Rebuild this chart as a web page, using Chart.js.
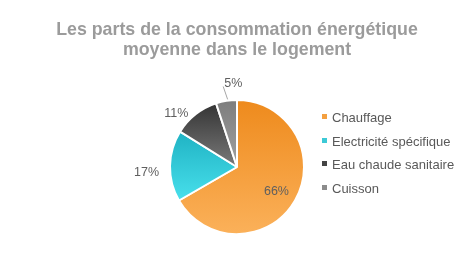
<!DOCTYPE html>
<html lang="fr">
<head>
    <meta charset="utf-8"/>
    <title>Consommation énergétique</title>
    <script src="https://cdn.jsdelivr.net/npm/chart.js"></script>
    <style>
        html, body { margin: 0; padding: 0; background: #fff; }
        #wrap { position: relative; width: 474px; height: 254px; overflow: hidden; font-family: "Liberation Sans", Arial, sans-serif; }
        #title {
            position: absolute; left: 0; top: 19px; width: 474px;
            text-align: center; font-weight: bold; font-size: 17.8px; line-height: 20px; color: #9b9b9b;
        }
        #legend { position: absolute; left: 322px; top: 109px; margin: 0; padding: 0; list-style: none; }
        #legend li { height: 23.7px; line-height: 18px; font-size: 13px; color: #595959; white-space: nowrap; }
        #legend span { display: inline-block; width: 5px; height: 5px; margin-right: 5px; vertical-align: 3px; }
        canvas { position: absolute; left: 0; top: 0; }
    </style>
</head>
<body>
<div id="wrap">
    <canvas id="pie" width="474" height="254"></canvas>
    <div id="title">Les parts de la consommation énergétique<br>moyenne dans le logement</div>
    <ul id="legend"></ul>
</div>
<script>
    // data
    const categories = ['Chauffage', 'Electricité spécifique', 'Eau chaude sanitaire', 'Cuisson'];
    const shares = [66, 17, 11, 5];
    const pctLabels = ['66%', '17%', '11%', '5%'];

    // gradient colours (top, bottom) and legend swatch
    const gradTop = ['#ee8a1c', '#1fb2c3', '#333333', '#7d7d7d'];
    const gradBottom = ['#fbb15a', '#48e0ec', '#7a7a7a', '#a0a0a0'];
    const swatch = ['#f4a040', '#3cc9d6', '#444444', '#8c8c8c'];

    // legend in html
    const legend = document.getElementById('legend');
    categories.forEach((c, i) => {
        const li = document.createElement('li');
        li.innerHTML = '<span style="background:' + swatch[i] + '"></span>' + c;
        legend.appendChild(li);
    });

    // angle range of a slice, starting at 12 o'clock, clockwise
    function sliceAngles(i) {
        const total = shares.reduce((a, b) => a + b, 0);
        let start = -Math.PI / 2;
        for (let k = 0; k < i; k++) start += shares[k] / total * Math.PI * 2;
        return [start, start + shares[i] / total * Math.PI * 2];
    }

    function sliceFill(ctx) {
        const chart = ctx.chart;
        const area = chart.chartArea;
        const i = ctx.dataIndex;
        if (!area) return swatch[i];
        const cx = (area.left + area.right) / 2;
        const cy = (area.top + area.bottom) / 2;
        const r = Math.min(area.right - area.left, area.bottom - area.top) / 2;
        const [a0, a1] = sliceAngles(i);
        // vertical extent of the slice
        let ys = [cy, cy + Math.sin(a0) * r, cy + Math.sin(a1) * r];
        [Math.PI / 2, -Math.PI / 2, Math.PI * 1.5].forEach(a => {
            if (a > a0 && a < a1) ys.push(cy + Math.sin(a) * r);
        });
        const y0 = Math.min(...ys), y1 = Math.max(...ys);
        const g = chart.ctx.createLinearGradient(0, y0, 0, y1);
        g.addColorStop(0, gradTop[i]);
        g.addColorStop(1, gradBottom[i]);
        return g;
    }

    // percent labels, inside for the big slice, outside for the others
    const pctPlugin = {
        id: 'pctLabels',
        afterDatasetsDraw(chart) {
            const c = chart.ctx;
            const meta = chart.getDatasetMeta(0);
            c.save();
            c.font = '12.5px "Liberation Sans", Arial, sans-serif';
            c.fillStyle = '#5f5f5f';
            c.textBaseline = 'middle';
            meta.data.forEach((arc, i) => {
                const p = arc.getProps(['x', 'y', 'startAngle', 'endAngle', 'outerRadius']);
                const mid = (p.startAngle + p.endAngle) / 2;
                const r = p.outerRadius;
                if (shares[i] > 40) {
                    c.textAlign = 'center';
                    c.fillText(pctLabels[i], p.x + Math.cos(mid) * r * 0.68, p.y + Math.sin(mid) * r * 0.68 + 2);
                } else if (shares[i] < 8) {
                    // callout with leader line
                    const a = mid + 0.05;
                    const x1 = p.x + Math.cos(a) * (r + 1) - 2, y1 = p.y + Math.sin(a) * (r + 1);
                    const x2 = p.x + Math.cos(a) * (r + 14) - 5, y2 = p.y + Math.sin(a) * (r + 14);
                    c.strokeStyle = '#a6a6a6';
                    c.lineWidth = 1;
                    c.beginPath();
                    c.moveTo(x1, y1);
                    c.lineTo(x2, y2);
                    c.stroke();
                    c.textAlign = 'center';
                    c.fillText(pctLabels[i], x2 + 10, y2 - 3);
                } else {
                    const d = r + 10;
                    c.textAlign = Math.cos(mid) < 0 ? 'right' : 'left';
                    c.fillText(pctLabels[i], p.x + Math.cos(mid) * d - 1, p.y + Math.sin(mid) * d + 7);
                }
            });
            c.restore();
        }
    };

    new Chart(document.getElementById('pie'), {
        type: 'pie',
        data: {
            labels: categories,
            datasets: [{
                data: shares,
                backgroundColor: sliceFill,
                borderColor: '#ffffff',
                borderWidth: 2
            }]
        },
        options: {
            responsive: false,
            animation: false,
            layout: { padding: { left: 169, right: 169, top: 99, bottom: 19 } },
            plugins: {
                legend: { display: false },
                tooltip: { enabled: false }
            }
        },
        plugins: [pctPlugin]
    });
</script>
</body>
</html>
